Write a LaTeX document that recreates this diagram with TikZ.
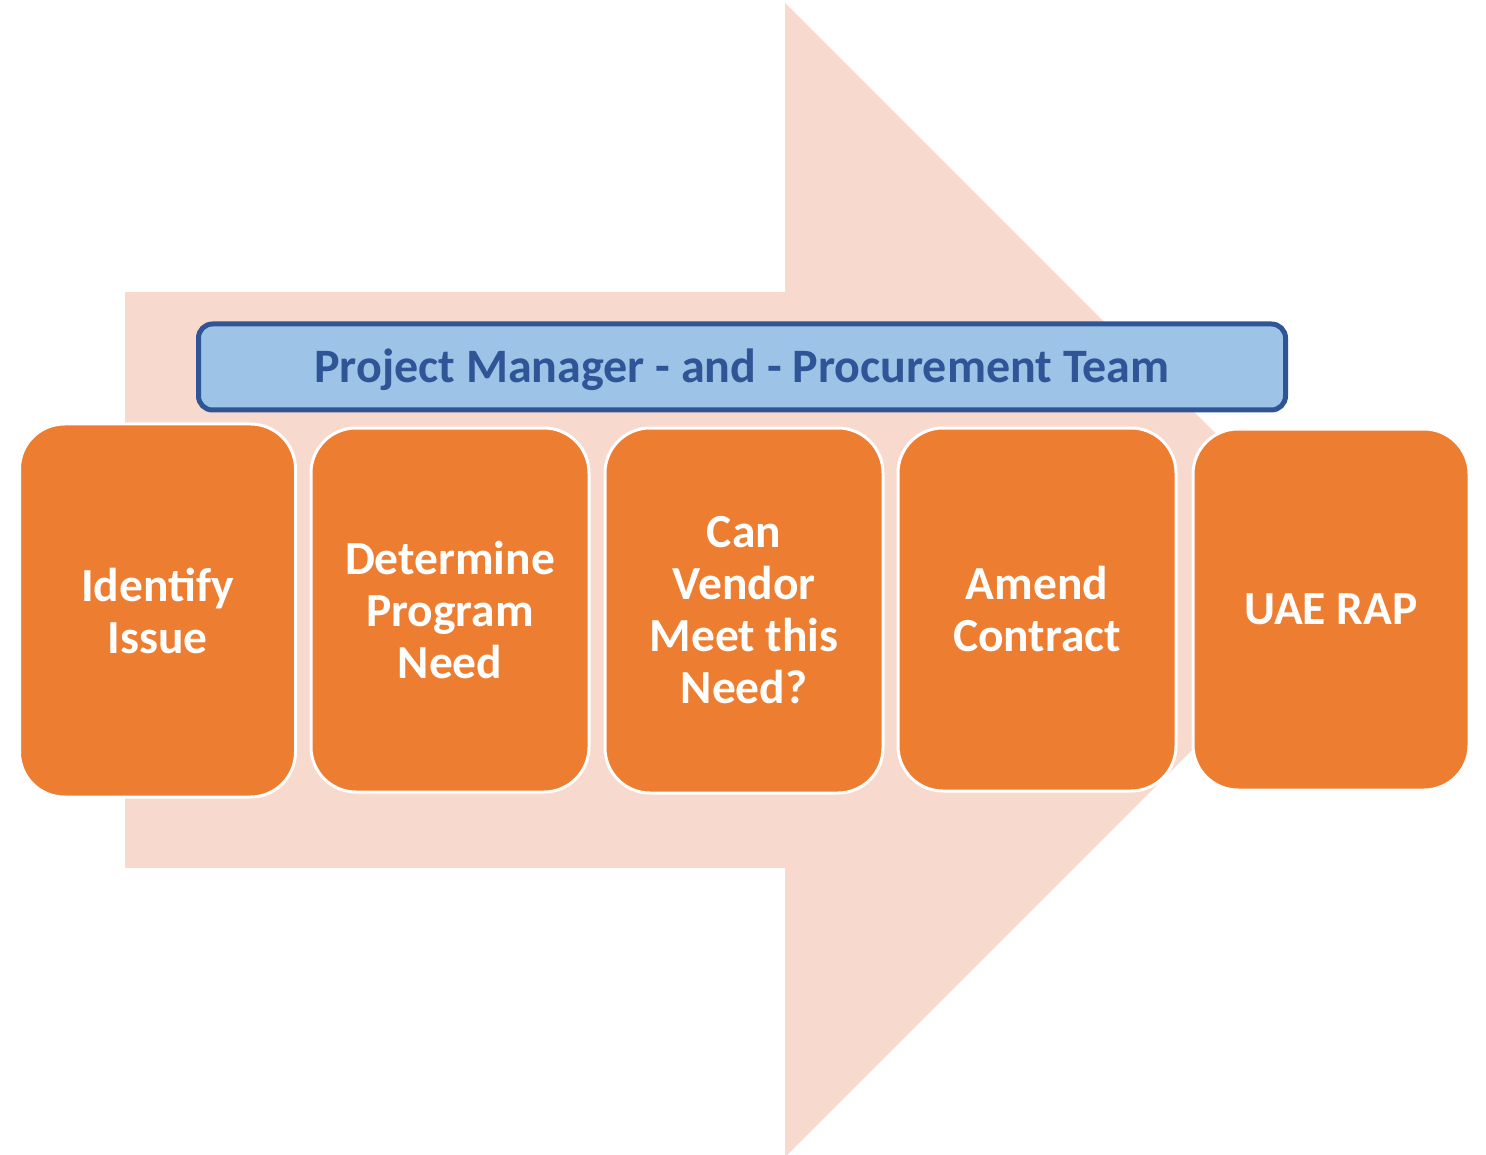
\documentclass[tikz,border=0pt]{standalone}
\usepackage{fontspec}
\setmainfont{Carlito}
\definecolor{arrowpink}{HTML}{F8D9CE}
\definecolor{boxorange}{HTML}{ED7D31}
\definecolor{barblue}{HTML}{9DC3E6}
\definecolor{bardark}{HTML}{2F5597}
\tikzset{
  stepbox/.style={fill=boxorange, draw=white, line width=3pt, rounded corners=45pt,
    text=white, font=\fontsize{47.5}{52}\selectfont\bfseries, align=center},
  barbox/.style={fill=barblue, draw=bardark, line width=5pt, rounded corners=14pt},
  bartextstyle/.style={text=bardark, font=\fontsize{48}{52}\selectfont\bfseries, inner sep=0pt}
}
\begin{document}
\begin{tikzpicture}[x=1pt,y=-1pt]
\useasboundingbox (0,0) rectangle (1486,1155);
% big arrow
\fill[arrowpink] (125,292) -- (785,292) -- (785,3) -- (1362,580) -- (785,1157) -- (785,868) -- (125,868) -- cycle;
% bar
\node[barbox, minimum width=1087pt, minimum height=86pt, inner sep=0pt] (bar) at (742,367) {};
\node[bartextstyle] (bartext) at (742,370) {Project Manager - and - Procurement Team};
% steps
\node[stepbox, minimum width=276pt, minimum height=373pt, text depth=0pt] (s1) at (157.5,610.5) {Identify\\Issue};
\node[stepbox, minimum width=278pt, minimum height=364pt] (s2) at (450,610) {Determine\\Program\\Need};
\node[stepbox, minimum width=278pt, minimum height=365pt] (s3) at (744,610.5) {Can\\Vendor\\Meet this\\Need?};
\node[stepbox, minimum width=278pt, minimum height=363pt] (s4) at (1037,609.5) {Amend\\Contract};
\node[stepbox, minimum width=276pt, minimum height=361pt] (s5) at (1331,609.5) {UAE RAP};
\end{tikzpicture}
\end{document}
